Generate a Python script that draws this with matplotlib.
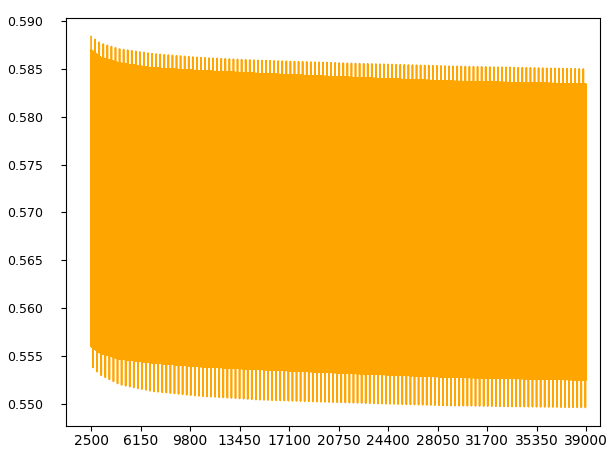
import numpy as np
import matplotlib
matplotlib.use("Agg")
import matplotlib.pyplot as plt

# Envelope values at several steps
anchor_steps = [2500, 3200, 4600, 7000, 10500, 15000, 21600, 29000, 39000]
spike_top    = [0.5884, 0.5877, 0.5871, 0.5866, 0.5862, 0.5859, 0.5856, 0.5853, 0.5850]
band_top     = [0.5870, 0.5862, 0.5856, 0.5851, 0.5848, 0.5845, 0.5841, 0.5837, 0.5834]
band_bottom  = [0.5560, 0.5553, 0.5547, 0.5543, 0.5539, 0.5536, 0.5532, 0.5528, 0.5525]
spike_bottom = [0.5540, 0.5530, 0.5520, 0.5513, 0.5508, 0.5504, 0.5501, 0.5498, 0.5496]

start_step, end_step, log_every, cycle = 2500, 39000, 10, 300
tick_values = [2500, 6150, 9800, 13450, 17100, 20750, 24400, 28050, 31700, 35350, 39000]
tick_labels = [str(v) for v in tick_values]

steps = np.arange(start_step, end_step + 1, log_every)
st = np.interp(steps, anchor_steps, spike_top)
bt = np.interp(steps, anchor_steps, band_top)
bb = np.interp(steps, anchor_steps, band_bottom)
sb = np.interp(steps, anchor_steps, spike_bottom)

phase = (steps - start_step) % cycle
idx = np.arange(len(steps))
values = np.where(idx % 2 == 0, bt, bb)
values = np.where(phase == 0, st, values)
values = np.where(phase == cycle // 2, sb, values)

fig = plt.figure(figsize=(6.11, 4.5), dpi=100)
ax = fig.add_subplot(111)
fig.subplots_adjust(left=0.108, right=0.982, top=0.96, bottom=0.0533)
ax.plot(steps, values, color="orange", linewidth=1.2)
ax.set_xlim(650, 40030)
ax.set_xticks(tick_values)
ax.set_xticklabels(tick_labels)
ax.tick_params(axis="x", labelsize=10, pad=2.5)
ax.tick_params(axis="y", labelsize=9, pad=13)
fig.savefig("out.png", dpi=100)
